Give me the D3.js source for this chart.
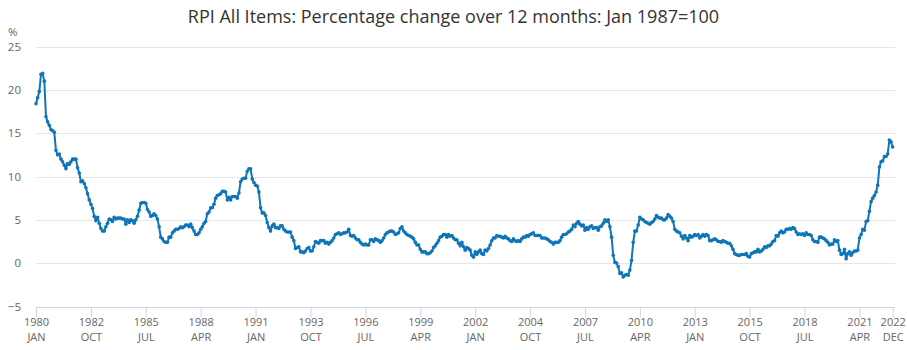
<!DOCTYPE html>
<html>
<head>
<meta charset="utf-8">
<script src="https://cdn.jsdelivr.net/npm/d3@7"></script>
<style>
  html, body { margin: 0; padding: 0; background: #fff; }
  svg { display: block; font-family: "Open Sans", sans-serif; }
</style>
</head>
<body>
<svg id="chart" width="907" height="350"></svg>
<script>
const title = "RPI All Items: Percentage change over 12 months: Jan 1987=100";
const startYear = 1980;
const monthNames = ["JAN","FEB","MAR","APR","MAY","JUN","JUL","AUG","SEP","OCT","NOV","DEC"];
const yTicks = [-5, 0, 5, 10, 15, 20, 25];
const xTickIndices = [0, 33, 66, 99, 132, 165, 198, 231, 264, 297, 330, 363, 396, 429, 462, 495, 515];

// Monthly values, Jan 1980 .. Dec 2022 (one row per year)
const v1980s = [
  18.4,19.1,19.8,21.8,21.9,21.0,16.9,16.3,15.9,15.4,15.3,15.1,
  13.0,12.5,12.6,12.0,11.7,11.3,10.9,11.5,11.4,11.7,12.0,12.0,
  12.0,11.0,10.4,9.4,9.5,9.2,8.7,8.0,7.3,6.8,6.3,5.4,
  4.9,5.3,4.6,4.0,3.7,3.7,4.2,4.6,5.1,5.0,4.8,5.3,
  5.1,5.2,5.2,5.2,5.1,5.1,4.5,5.0,4.7,5.0,4.9,4.6,
  5.0,5.4,6.1,6.9,7.0,7.0,6.9,6.2,5.9,5.4,5.5,5.7,
  5.5,5.1,4.2,3.0,2.8,2.5,2.4,2.4,3.0,3.0,3.5,3.7,
  3.9,3.9,4.0,4.2,4.1,4.2,4.4,4.4,4.2,4.5,4.1,3.7,
  3.3,3.3,3.5,3.9,4.2,4.6,4.8,5.7,5.9,6.4,6.4,6.8,
  7.5,7.8,7.9,8.0,8.3,8.3,8.2,7.3,7.6,7.3,7.7,7.7
];
const v1990s = [
  7.7,7.5,8.1,9.4,9.7,9.8,9.8,10.6,10.9,10.9,9.7,9.3,
  9.0,8.9,8.2,6.4,5.8,5.8,5.5,4.7,4.1,3.7,4.3,4.5,
  4.1,4.1,4.0,4.3,4.3,3.9,3.7,3.6,3.6,3.6,3.0,2.6,
  1.7,1.8,1.9,1.3,1.3,1.2,1.4,1.7,1.8,1.4,1.4,1.9,
  2.5,2.4,2.3,2.6,2.6,2.6,2.3,2.4,2.2,2.4,2.6,2.9,
  3.3,3.4,3.5,3.3,3.4,3.5,3.5,3.6,3.9,3.2,3.1,3.2,
  2.9,2.7,2.7,2.4,2.2,2.1,2.2,2.1,2.1,2.7,2.7,2.5,
  2.8,2.7,2.6,2.4,2.6,2.9,3.3,3.5,3.6,3.7,3.7,3.6,
  3.3,3.4,3.5,4.0,4.2,3.7,3.5,3.3,3.2,3.1,3.0,2.8,
  2.4,2.1,2.1,1.6,1.3,1.3,1.3,1.1,1.1,1.2,1.4,1.8
];
const v2000s = [
  2.0,2.3,2.6,3.0,3.1,3.3,3.3,3.0,3.3,3.1,3.2,2.9,
  2.7,2.7,2.3,2.0,2.4,1.9,1.5,1.8,1.7,1.5,0.9,0.7,
  1.3,1.0,1.3,1.5,1.1,1.0,1.5,1.4,1.7,2.1,2.6,2.9,
  2.9,3.2,3.1,3.1,3.0,2.9,3.1,2.9,2.8,2.6,2.5,2.8,
  2.6,2.5,2.6,2.5,2.8,3.0,3.0,3.2,3.1,3.3,3.4,3.5,
  3.2,3.2,3.2,3.2,2.9,2.9,2.9,2.8,2.7,2.5,2.4,2.2,
  2.4,2.4,2.4,2.6,3.0,3.3,3.3,3.4,3.6,3.7,3.9,4.4,
  4.2,4.6,4.8,4.5,4.3,4.4,3.8,4.1,3.9,4.2,4.3,4.0,
  4.1,4.1,3.8,4.2,4.3,4.6,5.0,4.8,5.0,4.2,3.0,0.9,
  0.1,0.0,-0.4,-1.2,-1.1,-1.6,-1.4,-1.3,-1.4,-0.8,0.3,2.4
];
const v2010s = [
  3.7,3.7,4.4,5.3,5.1,5.0,4.8,4.7,4.6,4.5,4.7,4.8,
  5.1,5.5,5.3,5.2,5.2,5.0,5.0,5.2,5.6,5.4,5.2,4.8,
  3.9,3.7,3.6,3.5,3.1,2.8,3.2,2.9,2.6,3.2,3.0,3.1,
  3.3,3.2,3.3,2.9,3.1,3.3,3.1,3.3,3.2,2.6,2.6,2.7,
  2.8,2.7,2.5,2.5,2.4,2.6,2.5,2.4,2.3,2.3,2.0,1.6,
  1.1,1.0,0.9,0.9,1.0,1.0,1.0,1.1,0.8,0.7,1.1,1.2,
  1.3,1.3,1.6,1.3,1.4,1.6,1.9,1.8,2.0,2.0,2.2,2.5,
  2.6,3.2,3.1,3.5,3.7,3.5,3.6,3.9,3.9,4.0,3.9,4.1,
  4.0,3.6,3.3,3.4,3.3,3.4,3.2,3.5,3.3,3.3,3.2,2.7,
  2.5,2.5,2.4,3.0,3.0,2.9,2.8,2.6,2.4,2.1,2.2,2.2
];
const v2020s = [
  2.7,2.5,2.6,1.5,1.0,1.1,1.6,0.5,1.1,1.3,0.9,1.2,
  1.4,1.4,1.5,2.9,3.3,3.9,3.8,4.8,4.9,6.0,7.1,7.5,
  7.8,8.2,9.0,11.1,11.7,11.8,12.3,12.3,12.6,14.2,14.0,13.4
];
const values = [].concat(v1980s, v1990s, v2000s, v2010s, v2020s);
const data = values.map((v, i) => ({ i, v }));

const svg = d3.select("#chart");
const x = d3.scaleLinear().domain([0, values.length - 1]).range([36, 892.7]);
const y = d3.scaleLinear().domain([-5, 25]).range([306.5, 46.5]);

const color = "#0f75b9";
const gridColor = "#e6e6e6";
const axisColor = "#ccd6eb";
const labelColor = "#666666";

// Title
svg.append("text")
  .attr("x", 453.5).attr("y", 23)
  .attr("text-anchor", "middle")
  .attr("font-size", 18)
  .attr("fill", "#333333")
  .text(title);

// Gridlines (y)
svg.append("g")
  .selectAll("line")
  .data(yTicks.filter(t => t > -5))
  .join("line")
  .attr("x1", 36).attr("x2", 895)
  .attr("y1", d => Math.round(y(d)) + 0.5).attr("y2", d => Math.round(y(d)) + 0.5)
  .attr("stroke", gridColor).attr("stroke-width", 1);

// Y axis labels via d3 axis (no domain line)
const yAxis = svg.append("g")
  .attr("transform", "translate(21,0)")
  .call(d3.axisLeft(y).tickValues(yTicks).tickSize(0).tickPadding(0).tickFormat(d3.format("d")));
yAxis.select(".domain").remove();
yAxis.selectAll("text")
  .attr("font-family", "Open Sans, sans-serif")
  .attr("font-size", 11.5)
  .attr("fill", labelColor);

// % unit label
svg.append("text")
  .attr("x", 8).attr("y", 36)
  .attr("font-size", 11.5).attr("fill", labelColor)
  .text("%");

// X axis
const xAxis = svg.append("g")
  .attr("transform", `translate(0,${Math.round(y(-5)) + 0.5})`)
  .call(d3.axisBottom(x).tickValues(xTickIndices).tickSize(10).tickFormat(""));
xAxis.select(".domain").attr("d", `M36,0H895`).attr("stroke", axisColor);
xAxis.selectAll(".tick line").attr("stroke", axisColor);
xAxis.selectAll(".tick").each(function(d) {
  const g = d3.select(this);
  const yr = startYear + Math.floor(d / 12);
  const mo = monthNames[d % 12];
  g.append("text")
    .attr("text-anchor", "middle")
    .attr("font-family", "Open Sans, sans-serif")
    .attr("font-size", 11)
    .attr("fill", labelColor)
    .attr("x", 0).attr("y", 18.5)
    .text(yr);
  g.append("text")
    .attr("text-anchor", "middle")
    .attr("font-family", "Open Sans, sans-serif")
    .attr("font-size", 11)
    .attr("fill", labelColor)
    .attr("x", 0).attr("y", 33.5)
    .text(mo);
});

// Line
const line = d3.line().x(d => x(d.i)).y(d => y(d.v));
svg.append("path")
  .datum(data)
  .attr("d", line)
  .attr("fill", "none")
  .attr("stroke", color)
  .attr("stroke-width", 2)
  .attr("stroke-linejoin", "round");

// Markers
svg.append("g")
  .selectAll("circle")
  .data(data)
  .join("circle")
  .attr("cx", d => x(d.i))
  .attr("cy", d => y(d.v))
  .attr("r", 1.8)
  .attr("fill", color);
</script>
</body>
</html>
